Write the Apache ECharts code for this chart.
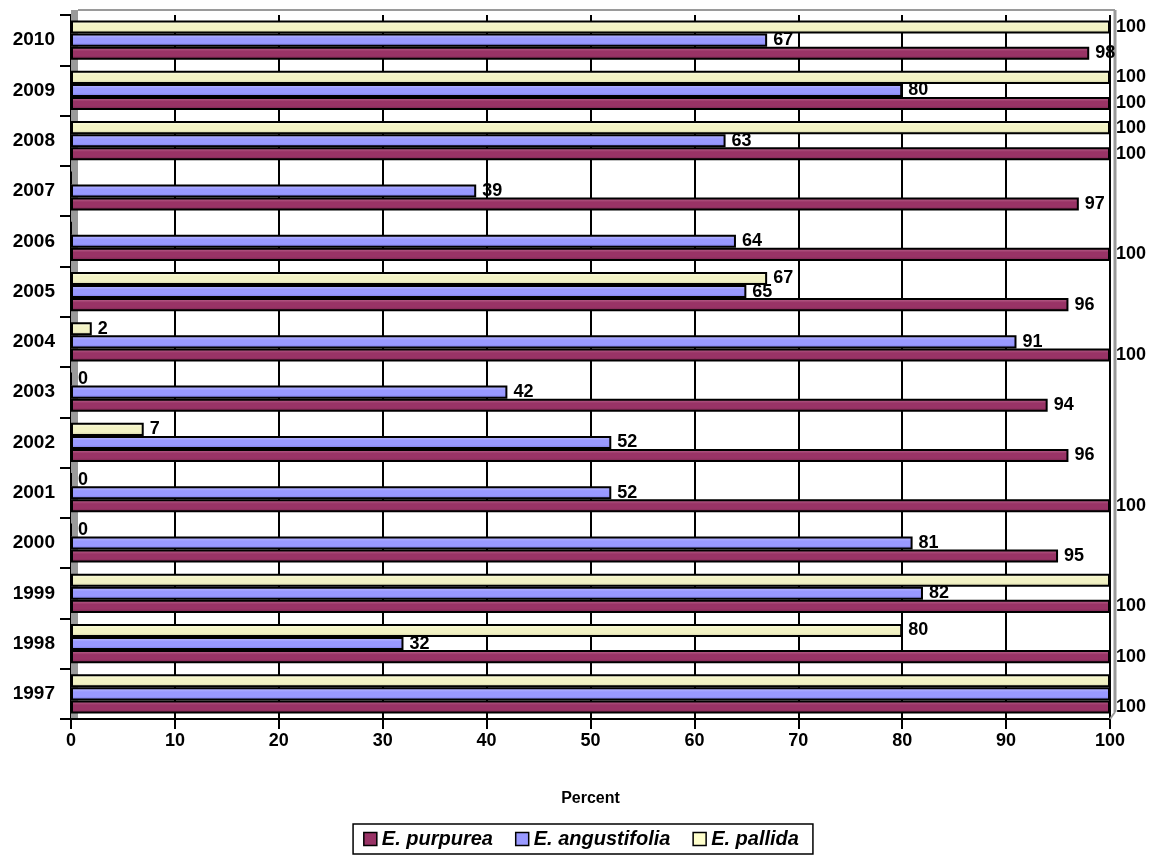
<!DOCTYPE html>
<html>
<head>
<meta charset="utf-8">
<script src="https://cdn.jsdelivr.net/npm/echarts@6/dist/echarts.min.js"></script>
<style>
  html, body { margin: 0; padding: 0; background: #fff; }
  #chart { width: 1162px; height: 861px; }
</style>
</head>
<body>
<div id="chart"></div>
<script>
// years, bottom to top
const years = ['1997', '1998', '1999', '2000', '2001', '2002', '2003', '2004', '2005', '2006', '2007', '2008', '2009', '2010'];
const purpurea = [100, 100, 100, 95, 100, 96, 94, 100, 96, 100, 97, 100, 100, 98];
const angustifolia = [100, 32, 82, 81, 52, 52, 42, 91, 65, 64, 39, 63, 80, 67];
const pallida = [100, 80, 100, 0, 0, 7, 0, 2, 67, 0, 0, 100, 100, 100];
const xTicks = [0, 10, 20, 30, 40, 50, 60, 70, 80, 90, 100];

// labels the original leaves out
const hideAngustifolia = ['1997'];
const hidePallida = ['1997', '1999', '2006', '2007'];

const font = '"Liberation Sans", Arial, sans-serif';

function cyl(top, mid, bottom) {
    return new echarts.graphic.LinearGradient(0, 0, 0, 1, [
        { offset: 0, color: top },
        { offset: 0.35, color: mid },
        { offset: 0.7, color: mid },
        { offset: 1, color: bottom }
    ]);
}

function makeData(values, hidden) {
    return values.map((v, i) => ({
        value: v,
        label: hidden.includes(years[i]) ? { show: false } : undefined
    }));
}

const labelStyle = {
    show: true,
    position: 'right',
    distance: 6,
    color: '#000',
    fontFamily: font,
    fontWeight: 'bold',
    fontSize: 18
};

const chart = echarts.init(document.getElementById('chart'));
chart.setOption({
    animation: false,
    textStyle: { fontFamily: font },
    grid: { left: 71, right: 52, top: 15, bottom: 142 },
    xAxis: {
        type: 'value',
        min: 0,
        max: 100,
        interval: 10,
        name: 'Percent',
        nameLocation: 'middle',
        nameGap: 72,
        nameTextStyle: { fontWeight: 'bold', fontSize: 16, color: '#000' },
        axisLine: { show: true, lineStyle: { color: '#000', width: 2 } },
        axisTick: { show: true, length: 10, lineStyle: { color: '#000', width: 2 } },
        axisLabel: { color: '#000', fontWeight: 'bold', fontSize: 18, margin: 13,
            formatter: v => xTicks.includes(v) ? String(v) : '' },
        splitLine: { show: true, lineStyle: { color: '#000', width: 2 } }
    },
    yAxis: {
        type: 'category',
        data: years,
        axisLine: { show: true, lineStyle: { color: '#000', width: 2 } },
        axisTick: { show: true, length: 11, lineStyle: { color: '#000', width: 2 } },
        axisLabel: { color: '#000', fontWeight: 'bold', fontSize: 19, margin: 16 },
        splitLine: { show: false }
    },
    legend: {
        bottom: 7,
        left: 'center',
        itemWidth: 13,
        itemHeight: 13,
        itemGap: 22,
        padding: [5, 14, 5, 10],
        borderColor: '#000',
        borderWidth: 1.5,
        borderRadius: 0,
        icon: 'rect',
        textStyle: { fontWeight: 'bold', fontStyle: 'italic', fontSize: 20, color: '#000' },
        data: [
            { name: 'E. purpurea', itemStyle: { color: '#993366', borderColor: '#000', borderWidth: 1.5 } },
            { name: 'E. angustifolia', itemStyle: { color: '#9999ff', borderColor: '#000', borderWidth: 1.5 } },
            { name: 'E. pallida', itemStyle: { color: '#ffffcc', borderColor: '#000', borderWidth: 1.5 } }
        ]
    },
    graphic: [
        { type: 'rect', shape: { x: 71, y: 10, width: 7, height: 708 }, style: { fill: '#9a9a9a' }, z: 1 },
        { type: 'line', shape: { x1: 78, y1: 10, x2: 1115, y2: 10 }, style: { stroke: '#9a9a9a', lineWidth: 2 }, z: 1 },
        { type: 'line', shape: { x1: 1115, y1: 10, x2: 1115, y2: 712 }, style: { stroke: '#9a9a9a', lineWidth: 3 }, z: 1 },
        { type: 'line', shape: { x1: 1110, y1: 719, x2: 1115, y2: 712 }, style: { stroke: '#9a9a9a', lineWidth: 2 }, z: 1 }
    ],
    // series listed top to bottom within each year band
    series: [
        {
            name: 'E. pallida',
            type: 'bar',
            data: makeData(pallida, hidePallida),
            barGap: '0%',
            barCategoryGap: '22%',
            itemStyle: { color: cyl('#ffffe6', '#f2f2c4', '#c8c8a0'), borderColor: '#000', borderWidth: 2 },
            label: labelStyle,
            z: 3
        },
        {
            name: 'E. angustifolia',
            type: 'bar',
            data: makeData(angustifolia, hideAngustifolia),
            barGap: '0%',
            barCategoryGap: '22%',
            itemStyle: { color: cyl('#c4c4ff', '#9999ff', '#7070d8'), borderColor: '#000', borderWidth: 2 },
            label: labelStyle,
            z: 3
        },
        {
            name: 'E. purpurea',
            type: 'bar',
            data: makeData(purpurea, []),
            barGap: '0%',
            barCategoryGap: '22%',
            itemStyle: { color: cyl('#c27096', '#993366', '#6e2248'), borderColor: '#000', borderWidth: 2 },
            label: labelStyle,
            z: 3
        }
    ]
});
</script>
</body>
</html>
